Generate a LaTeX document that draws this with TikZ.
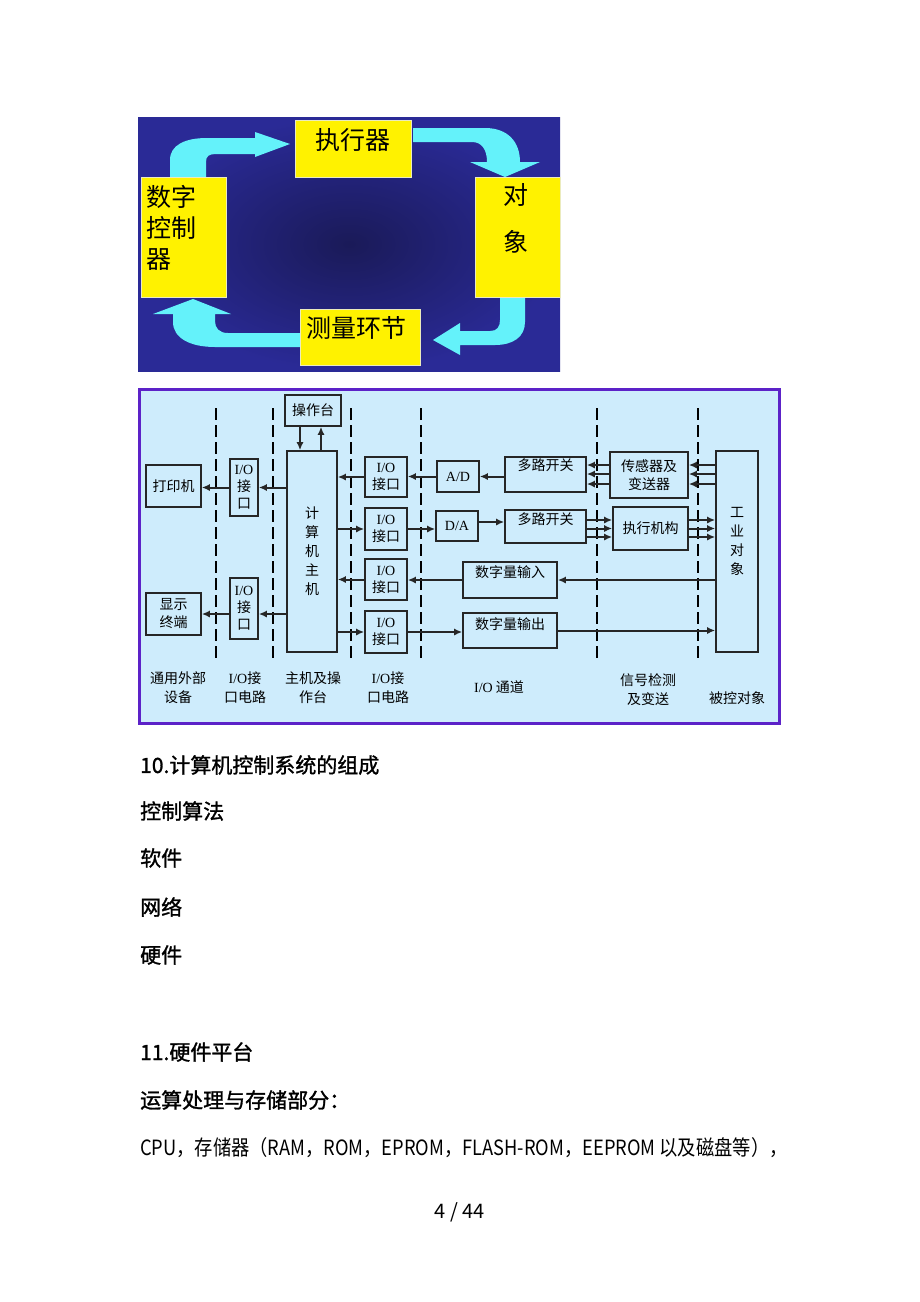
\documentclass[tikz,border=0pt]{standalone}
\usepackage{fontspec}
\setmainfont{Liberation Serif}
\newfontfamily\cjk{Noto Sans CJK SC}
\newfontfamily\cjkheavy[FakeBold=1.3]{Noto Sans CJK SC}
\usetikzlibrary{positioning,arrows.meta}

\definecolor{panelBlue}{RGB}{206,236,252}
\definecolor{panelRim}{RGB}{92,34,200}
\definecolor{loopCyan}{RGB}{100,242,250}
\definecolor{navyIn}{RGB}{26,26,88}
\definecolor{navyOut}{RGB}{42,42,150}

\tikzset{
        yellowBox/.style={rectangle, fill=yellow, draw={rgb,255:red,235;green,235;blue,190}, line width=0.8pt, inner sep=0pt},
        loopText/.style={font=\cjk\fontsize{25}{31}\selectfont, inner sep=0pt, align=left},
        blockBox/.style={rectangle, draw=black!85, line width=1.6pt, inner sep=0pt, font=\cjk\fontsize{14}{17}\selectfont, align=center},
        ioBox/.style={blockBox, minimum width=42pt},
        blockText/.style={font=\cjk\fontsize{14}{19}\selectfont, inner sep=0pt, align=center},
        divider/.style={line width=1.6pt, dash pattern=on 12pt off 5pt},
        flow/.style={draw=black!85, line width=2pt, -{Latex[length=8pt,width=7pt]}},
        bodyText/.style={font=\cjkheavy\fontsize{21}{25}\selectfont, anchor=west, inner sep=0pt}
}

\begin{document}
\begin{tikzpicture}[x=1pt, y=-1pt]
        \useasboundingbox (0,0) rectangle (920,1302);
        \fill[white] (0,0) rectangle (920,1302);

        % closed loop
        \shade[inner color=navyIn, outer color=navyOut] (138,117) rectangle (560,371);
        \fill[loopCyan] (170,177) -- (170,160) .. controls (170,145) and (185,138) .. (207,138) -- (255,138) -- (255,132) -- (290,144) -- (255,157) -- (255,154) -- (216,154) .. controls (209,154) and (206,156) .. (206,162) -- (206,177) -- cycle;
        \fill[loopCyan] (413,128) -- (485,128) .. controls (508,128) and (520,142) .. (520,162) -- (540,162) -- (505,177) -- (470,162) -- (487,162) .. controls (487,150) and (482,142) .. (472,142) -- (413,142) -- cycle;
        \fill[loopCyan] (500,298) -- (525,298) -- (525,322) .. controls (525,337) and (513,345) .. (495,345) -- (460,345) -- (460,355) -- (433,340) -- (460,323) -- (460,331) -- (490,331) .. controls (497,331) and (500,327) .. (500,320) -- cycle;
        \fill[loopCyan] (300,333) -- (228,333) .. controls (219,333) and (215,328) .. (215,321) -- (215,314) -- (231,314) -- (193,299) -- (153,314) -- (173,314) -- (173,322) .. controls (173,338) and (190,347) .. (215,347) -- (300,347) -- cycle;

        \node[yellowBox, minimum width=116pt, minimum height=57pt] (execNode) at (353,148.5) {};
        \node[yellowBox, minimum width=85pt, minimum height=120pt] (ctrlNode) at (183.5,237) {};
        \node[yellowBox, minimum width=85pt, minimum height=120pt] (objNode) at (517.5,237) {};
        \node[yellowBox, minimum width=120pt, minimum height=56pt] (measNode) at (360,337) {};
        \node[loopText] (execLabel) at (353,140) {执行器};
        \node[loopText, anchor=west] (ctrlLabel) at (146,227.5) {数字\\控制\\器};
        \node[loopText, align=center, font=\cjk\fontsize{25}{47}\selectfont] (objLabel) at (516,218.5) {对\\象};
        \node[loopText] (measLabel) at (356,328) {测量环节};

        % block diagram
        \draw[panelRim, line width=3pt, fill=panelBlue] (139.5,389.5) rectangle (779.5,723.5);
        \foreach \xd in {216,273,351,421,597,698}
                \draw[divider] (\xd,408) -- (\xd,660);

        \node[blockBox, minimum width=56pt, minimum height=31pt] (consoleNode) at (313,410.5) {操作台};
        \node[blockBox, minimum width=50pt, minimum height=201pt, font=\cjk\fontsize{14}{19}\selectfont] (cpuNode) at (312,551.5) {计\\算\\机\\主\\机};
        \node[blockBox, minimum width=55pt, minimum height=42pt] (printerNode) at (173.5,486) {打印机};
        \node[blockBox, minimum width=28pt, minimum height=57pt] (ioLeftTop) at (244,487.5) {{\rmfamily I/O}\\接\\口};
        \node[blockBox, minimum width=28pt, minimum height=61pt] (ioLeftBot) at (244,608.5) {{\rmfamily I/O}\\接\\口};
        \node[blockBox, minimum width=55pt, minimum height=42pt, font=\cjk\fontsize{14}{18}\selectfont] (displayNode) at (173.5,614) {显示\\终端};

        \node[ioBox, minimum height=40pt] (ioRightA) at (386,477) {{\rmfamily I/O}\\接口};
        \node[ioBox, minimum height=42pt] (ioRightB) at (386,529) {{\rmfamily I/O}\\接口};
        \node[ioBox, minimum height=41pt] (ioRightC) at (386,579.5) {{\rmfamily I/O}\\接口};
        \node[ioBox, minimum height=42pt] (ioRightD) at (386,632) {{\rmfamily I/O}\\接口};

        \node[blockBox, minimum width=42pt, minimum height=31pt, font=\rmfamily\fontsize{14}{17}\selectfont] (adNode) at (458,476.5) {A/D};
        \node[blockBox, minimum width=42pt, minimum height=30pt, font=\rmfamily\fontsize{14}{17}\selectfont] (daNode) at (457,526) {D/A};
        \node[blockBox, minimum width=81pt, minimum height=35pt, text depth=19pt] (muxTopNode) at (545.5,474.5) {多路开关};
        \node[blockBox, minimum width=81pt, minimum height=33pt, text depth=15pt] (muxBotNode) at (545.5,526.5) {多路开关};
        \node[blockBox, minimum width=94pt, minimum height=36pt, text depth=16pt] (dinNode) at (510,580) {数字量输入};
        \node[blockBox, minimum width=94pt, minimum height=35pt, text depth=13pt] (doutNode) at (510,630.5) {数字量输出};
        \node[blockBox, minimum width=78pt, minimum height=46pt, font=\cjk\fontsize{14}{18}\selectfont] (sensorNode) at (649,475) {传感器及\\变送器};
        \node[blockBox, minimum width=75pt, minimum height=43pt] (actuatorNode) at (650.5,528.5) {执行机构};
        \node[blockBox, minimum width=42pt, minimum height=201pt] (plantNode) at (737,551.5) {};
        \node[blockText] (plantLabel) at (737,541.5) {工\\业\\对\\象};

        \draw[flow] ([xshift=-13pt]consoleNode.south) -- ([xshift=-13pt]consoleNode.south |- cpuNode.north);
        \draw[flow] ([xshift=8pt]consoleNode.south |- cpuNode.north) -- ([xshift=8pt]consoleNode.south);
        \draw[flow] (cpuNode.west |- ioLeftTop) -- (ioLeftTop.east);
        \draw[flow] (ioLeftTop.west) -- (printerNode.east |- ioLeftTop.west);
        \draw[flow] (cpuNode.west |- displayNode) -- (ioLeftBot.east |- displayNode);
        \draw[flow] (ioLeftBot.west |- displayNode) -- (displayNode.east);

        \draw[flow] (muxTopNode.west |- adNode) -- (adNode.east);
        \draw[flow] (adNode.west) -- (ioRightA.east |- adNode);
        \draw[flow] (ioRightA.west) -- (cpuNode.east |- ioRightA);
        \draw[flow] (cpuNode.east |- ioRightB) -- (ioRightB.west);
        \draw[flow] (ioRightB.east) -- (daNode.west |- ioRightB);
        \draw[flow] ([yshift=4pt]daNode.east) -- ([yshift=4pt]daNode.east -| muxBotNode.west);
        \draw[flow] (plantNode.west |- dinNode) -- (dinNode.east);
        \draw[flow] (dinNode.west) -- (ioRightC.east |- dinNode);
        \draw[flow] (ioRightC.west) -- (cpuNode.east |- ioRightC);
        \draw[flow] (cpuNode.east |- ioRightD) -- (ioRightD.west);
        \draw[flow] (ioRightD.east) -- (doutNode.west |- ioRightD);
        \draw[flow] (doutNode.east) -- (plantNode.west |- doutNode);
        \foreach \dy in {10,1,-9} {
                \draw[flow] ([yshift=\dy pt]sensorNode.west) -- ([yshift=\dy pt]sensorNode.west -| muxTopNode.east);
                \draw[flow] ([yshift=\dy pt]sensorNode.east -| plantNode.west) -- ([yshift=\dy pt]sensorNode.east);
        }
        \foreach \dy in {8.5,0,-8.5} {
                \draw[flow] ([yshift=\dy pt]actuatorNode.west -| muxBotNode.east) -- ([yshift=\dy pt]actuatorNode.west);
                \draw[flow] ([yshift=\dy pt]actuatorNode.east) -- ([yshift=\dy pt]actuatorNode.east -| plantNode.west);
        }

        \node[blockText] (peripheralLabel) at (178,688) {通用外部\\设备};
        \node[blockText] (ioLeftLabel) at (245,688) {{\rmfamily I/O}接\\口电路};
        \node[blockText] (hostLabel) at (313,688) {主机及操\\作台};
        \node[blockText] (ioRightLabel) at (388,688) {{\rmfamily I/O}接\\口电路};
        \node[blockText] (channelLabel) at (499,687) {{\rmfamily I/O} 通道};
        \node[blockText] (signalLabel) at (648,690) {信号检测\\及变送};
        \node[blockText] (plantTitle) at (737,698) {被控对象};

        % page text
        \node[bodyText] (tenLine) at (140,765) {10.计算机控制系统的组成};
        \node[bodyText] (algoLine) at (140,811) {控制算法};
        \node[bodyText] (softLine) at (140,858) {软件};
        \node[bodyText] (netLine) at (140,907) {网络};
        \node[bodyText] (hardLine) at (140,955) {硬件};
        \node[bodyText] (elevenLine) at (140,1052) {11.硬件平台};
        \node[bodyText] (storeLine) at (140,1100) {运算处理与存储部分：};
        \node[bodyText, font=\cjk\fontsize{21}{25}\selectfont] (cpuLine) at (140,1148) {\scalebox{0.87}[1]{CPU，存储器（RAM，ROM，EPROM，FLASH-ROM，EEPROM 以及磁盘等），}};
        \node[bodyText, anchor=center, font=\cjk\fontsize{20}{24}\selectfont] (pageNum) at (460,1212) {4 / 44};
\end{tikzpicture}
\end{document}
